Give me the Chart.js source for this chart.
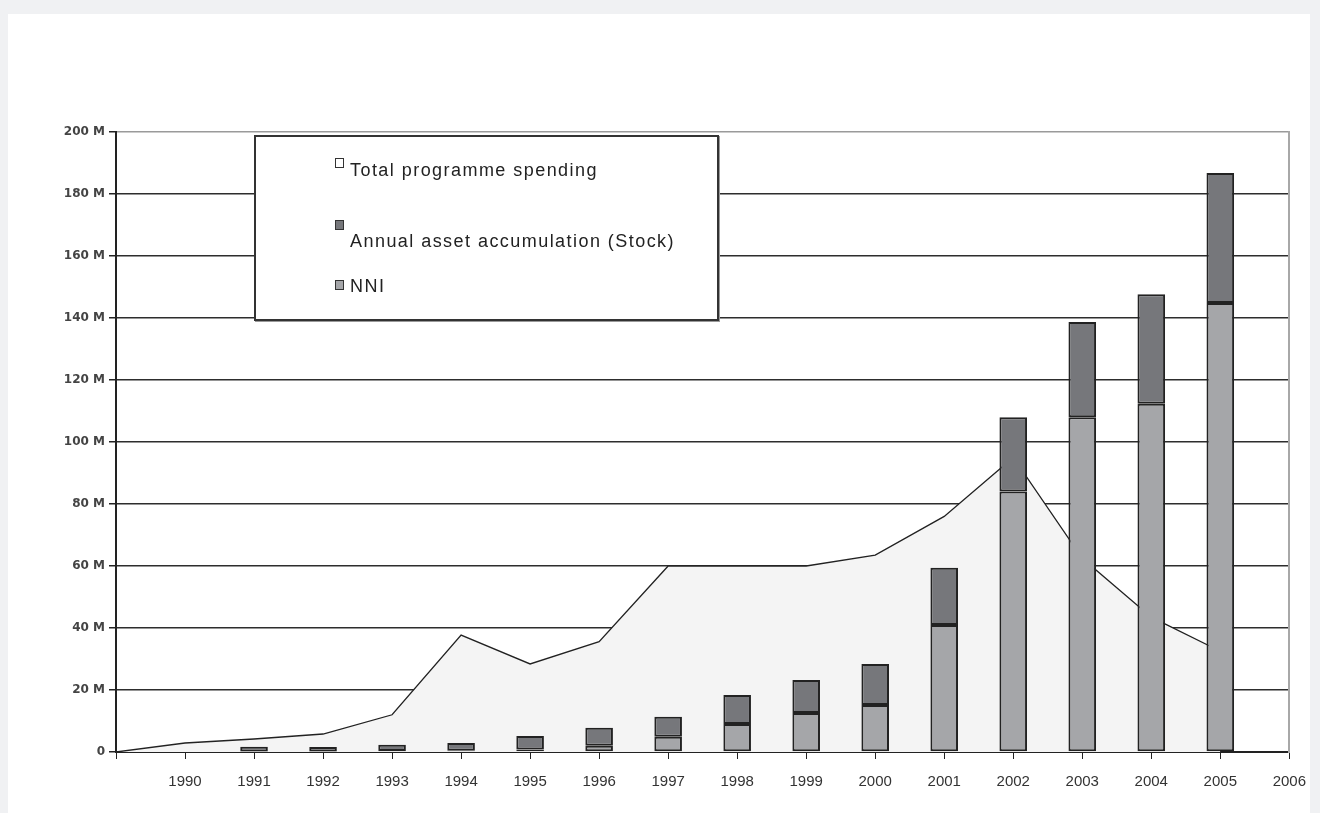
<!DOCTYPE html>
<html>
<head>
<meta charset="utf-8">
<script src="https://cdn.jsdelivr.net/npm/chart.js@4.4.1/dist/chart.umd.min.js"></script>
<style>
  html, body { margin: 0; padding: 0; width: 1320px; height: 813px; overflow: hidden; background: #f0f1f3; }
  #panel { position: absolute; left: 8px; top: 14px; width: 1302px; height: 820px; background: #fff; }
  #wrap { position: absolute; left: 0; top: 0; width: 1320px; height: 813px; }
  #legend {
    position: absolute; left: 254px; top: 135px; width: 465px; height: 186px;
    box-sizing: border-box; background: #fff; border: 2px solid #333;
    box-shadow: 1px 1px 0 #999;
    font-family: 'Liberation Sans', Arial, sans-serif; font-size: 18px; color: #222; letter-spacing: 1.45px;
  }
  .mark { position: absolute; left: 79px; width: 7px; height: 8px; border: 1.5px solid #333; }
  .txt { position: absolute; left: 94px; white-space: nowrap; line-height: 20px; }
</style>
</head>
<body>
<div id="panel"></div>
<div id="wrap"><canvas id="chart" width="1320" height="813"></canvas></div>
<div id="legend">
  <div class="mark" style="top:21px;background:#ffffff"></div>
  <div class="txt" style="top:23px">Total programme spending</div>
  <div class="mark" style="top:83px;background:#76777b"></div>
  <div class="txt" style="top:94px">Annual asset accumulation (Stock)</div>
  <div class="mark" style="top:143px;background:#a5a6a9"></div>
  <div class="txt" style="top:139px">NNI</div>
</div>
<script>
// categories (first slot is the unlabeled start of the axis)
const years = ['', '1990', '1991', '1992', '1993', '1994', '1995', '1996', '1997',
  '1998', '1999', '2000', '2001', '2002', '2003', '2004', '2005', '2006'];

// values in millions
const totalSpending = [0, 2.9, 4.2, 5.8, 12, 37.7, 28.4, 35.6, 60, 60, 60, 63.5, 76, 95, 62.5, 43.5, 32.5, null];
const nni   = [null, null, 0.2, 0.2, 0.3, 0.4, 0.8, 2.0, 4.9, 9.0, 12.6, 15.2, 41, 84, 108, 112.3, 144.8, null];
const stock = [null, null, 1.5, 1.4, 2.0, 2.5, 4.4, 5.8, 6.5, 9.4, 10.6, 13.2, 18.4, 24, 30.7, 35.4, 42, null];

const colors = {
  area: '#f4f4f4',
  line: '#222222',
  nni: '#a5a6a9',
  stock: '#76777b',
  edge: '#222222',
  grid: '#2d2d2d',
  gridTop: '#9a9a9a'
};

const ctx = document.getElementById('chart').getContext('2d');
new Chart(ctx, {
  type: 'bar',
  data: {
    labels: years,
    datasets: [
      {
        type: 'line',
        label: 'Total programme spending',
        data: totalSpending,
        stack: 'spend',
        order: 2,
        fill: 'origin',
        backgroundColor: colors.area,
        borderColor: colors.line,
        borderWidth: 1.3,
        pointRadius: 0,
        tension: 0
      },
      {
        label: 'NNI',
        data: nni,
        stack: 'bars',
        order: 1,
        backgroundColor: colors.nni,
        borderColor: colors.edge,
        borderWidth: 2,
        borderSkipped: false,
        categoryPercentage: 1,
        barPercentage: 0.4
      },
      {
        label: 'Annual asset accumulation (Stock)',
        data: stock,
        stack: 'bars',
        order: 1,
        backgroundColor: colors.stock,
        borderColor: colors.edge,
        borderWidth: 2,
        borderSkipped: false,
        categoryPercentage: 1,
        barPercentage: 0.4
      }
    ]
  },
  options: {
    responsive: false,
    animation: false,
    layout: { padding: { left: 40, right: 28, top: 132, bottom: 0 } },
    plugins: {
      legend: { display: false },
      tooltip: { enabled: false }
    },
    scales: {
      x: {
        stacked: true,
        offset: false,
        grid: { display: true, drawOnChartArea: false, drawTicks: true, tickLength: 7, tickColor: '#222', offset: false },
        border: { color: '#222', width: 2 },
        ticks: {
          autoSkip: false, maxRotation: 0, padding: 14, color: '#333',
          font: { family: 'Liberation Sans', size: 15 }
        },
        afterFit: (scale) => { scale.height = 61; }
      },
      y: {
        stacked: true,
        min: 0,
        max: 200,
        grid: {
          color: (c) => c.tick && c.tick.value === 200 ? colors.gridTop : colors.grid,
          lineWidth: 1.5,
          tickLength: 7,
          tickColor: '#222'
        },
        border: { color: '#222', width: 2 },
        ticks: {
          stepSize: 20,
          padding: 4,
          color: '#444',
          font: { family: 'DejaVu Sans', size: 12, weight: 'bold' },
          callback: (v) => v === 0 ? '0' : v + ' M'
        },
        afterFit: (scale) => { scale.width = 76; }
      },
      y2: {
        position: 'right',
        min: 0,
        max: 200,
        grid: { drawOnChartArea: false, drawTicks: false },
        border: { color: '#a8a8a8', width: 2 },
        ticks: { display: false },
        afterFit: (scale) => { scale.width = 0; }
      }
    }
  }
});
</script>
</body>
</html>
